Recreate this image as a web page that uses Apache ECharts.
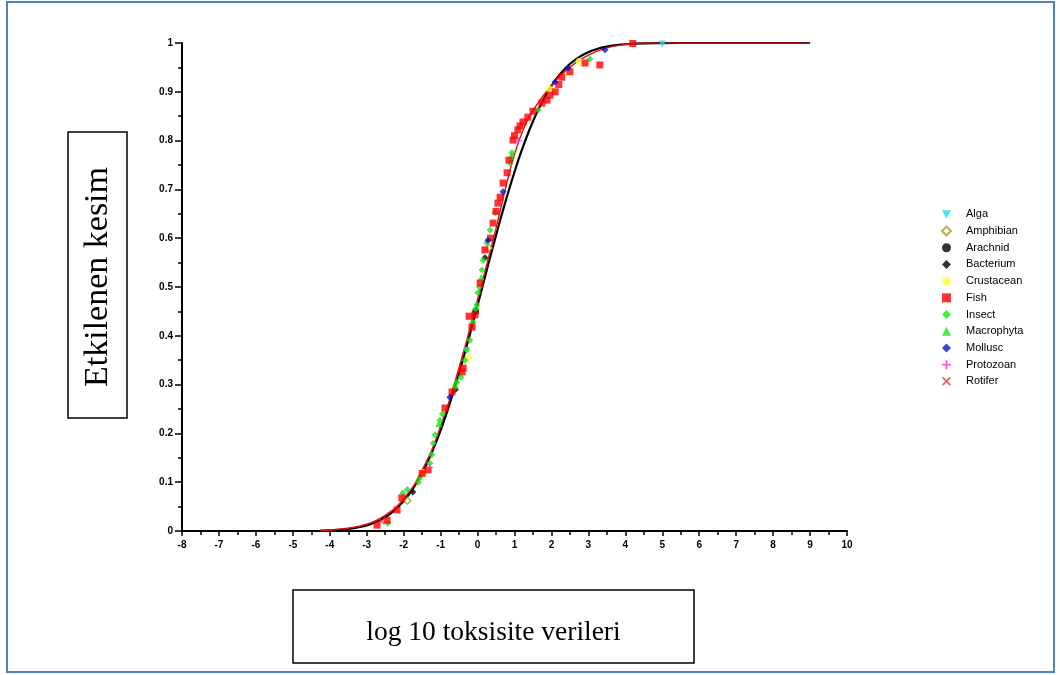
<!DOCTYPE html>
<html><head><meta charset="utf-8">
<script src="https://cdn.jsdelivr.net/npm/echarts@6/dist/echarts.min.js"></script>
<style>html,body{margin:0;padding:0;background:#fff}#c{width:1060px;height:675px}</style>
</head><body><div id="c"></div>
<script>
// ---- data ----
const speciesNames = ['Alga','Amphibian','Arachnid','Bacterium','Crustacean','Fish','Insect','Macrophyta','Mollusc','Protozoan','Rotifer'];

const alga = [[5.0,0.998],[-0.3,0.37]];
const amphibian = [[-1.9,0.062],[0.3,0.58]];
const arachnid = [[-0.05,0.45]];
const bacterium = [[-1.75,0.08],[-0.6,0.29],[0.2,0.56]];
const crustacean = [[-1.45,0.12],[-0.25,0.355],[1.95,0.905],[2.75,0.962]];
const fish = [[-2.72,0.012],[-2.45,0.022],[-2.18,0.043],[-2.05,0.068],[-1.5,0.118],[-1.34,0.125],[-0.88,0.252],[-0.69,0.285],
  [-0.42,0.326],[-0.39,0.334],[-0.23,0.44],[-0.15,0.418],[-0.07,0.443],[0.07,0.508],[0.2,0.576],[0.35,0.6],[0.42,0.631],
  [0.5,0.655],[0.55,0.672],[0.61,0.684],[0.69,0.713],[0.8,0.734],[0.85,0.76],[0.96,0.801],[1.0,0.81],[1.09,0.822],
  [1.15,0.83],[1.23,0.838],[1.36,0.848],[1.5,0.86],[1.74,0.877],[1.88,0.883],[1.96,0.893],[2.1,0.9],[2.2,0.915],
  [2.28,0.93],[2.5,0.941],[2.91,0.959],[3.31,0.955],[4.2,0.999]];
const insect = [[-2.43,0.016],[-2.02,0.078],[-1.9,0.085],[-1.6,0.1],[-1.56,0.109],[-1.29,0.139],[-1.24,0.156],[-1.2,0.18],
  [-1.15,0.197],[-1.02,0.227],[-0.95,0.24],[-0.61,0.295],[-0.56,0.305],[-0.45,0.315],[-0.34,0.35],[-0.29,0.371],
  [-0.21,0.391],[-0.12,0.428],[-0.05,0.455],[-0.02,0.463],[0.01,0.488],[0.05,0.5],[0.12,0.535],[0.15,0.555],
  [0.25,0.59],[0.34,0.617],[0.47,0.652],[0.88,0.754],[0.93,0.775],[1.64,0.863],[3.04,0.967]];
const macrophyta = [[-1.05,0.22],[0.1,0.52],[0.92,0.77]];
const mollusc = [[-0.75,0.274],[0.28,0.596],[0.69,0.695],[2.1,0.92],[2.45,0.949],[3.45,0.986]];
const protozoan = [[-1.3,0.13],[1.1,0.8]];
const rotifer = [[-2.6,0.02]];

// fitted curve (black) and fish curve (red)
const curveX = [-4.25,-4,-3.75,-3.5,-3.25,-3,-2.75,-2.5,-2.25,-2,-1.75,-1.5,-1.25,-1,-0.75,-0.5,-0.25,0,0.25,0.5,0.75,1,1.25,1.5,1.75,2,2.25,2.5,2.75,3,3.25,3.5,3.75,4,4.5,5,6,7,8,9];
const curveY = [0.0008,0.0014,0.0025,0.0043,0.0071,0.0116,0.0183,0.0283,0.0423,0.0614,0.0866,0.1188,0.1587,0.2064,0.2618,0.324,0.3916,0.4625,0.5347,0.6057,0.6733,0.7357,0.7915,0.8396,0.8798,0.9123,0.9377,0.957,0.9712,0.9812,0.9881,0.9927,0.9956,0.9974,0.9992,0.9998,1,1,1,1];
const fishCurveX = [-4.25,-4,-3.5,-3,-2.5,-2,-1.5,-1,-0.5,0,0.5,0.75,1,1.25,1.5,2,2.5,3,3.5,4,4.5,5,6,7,8,9];
const fishCurveY = [0.001,0.002,0.006,0.014,0.032,0.066,0.125,0.215,0.335,0.475,0.62,0.70,0.772,0.825,0.862,0.913,0.95,0.975,0.99,0.997,1,1,1,1,1,1];

const xLabel = 'log 10 toksisite verileri';
const yLabel = 'Etkilenen kesim';

// ---- build ----
const zip = (xs, ys) => xs.map((x, i) => [x, ys[i]]);
const plusPath = 'path://M4,0L6,0L6,4L10,4L10,6L6,6L6,10L4,10L4,6L0,6L0,4L4,4Z';
const crossPath = 'path://M1.4,0L5,3.6L8.6,0L10,1.4L6.4,5L10,8.6L8.6,10L5,6.4L1.4,10L0,8.6L3.6,5L0,1.4Z';
const downTriPath = 'path://M0,0L10,0L5,9Z';

const styles = {
  Alga: {symbol:downTriPath, itemStyle:{color:'#22d4f5'}},
  Amphibian: {symbol:'diamond', itemStyle:{color:'#ffffff', borderColor:'#a0a020', borderWidth:1.5}},
  Arachnid: {symbol:'circle', itemStyle:{color:'#000000'}},
  Bacterium: {symbol:'diamond', itemStyle:{color:'#000000'}},
  Crustacean: {symbol:'circle', itemStyle:{color:'#ffff40'}},
  Fish: {symbol:'rect', itemStyle:{color:'#ff0000'}},
  Insect: {symbol:'diamond', itemStyle:{color:'#19e619'}},
  Macrophyta: {symbol:'triangle', itemStyle:{color:'#19e619'}},
  Mollusc: {symbol:'diamond', itemStyle:{color:'#1010c8'}},
  Protozoan: {symbol:plusPath, itemStyle:{color:'#ff33cc'}},
  Rotifer: {symbol:crossPath, itemStyle:{color:'#d04040'}}
};
const dataMap = {Alga:alga, Amphibian:amphibian, Arachnid:arachnid, Bacterium:bacterium, Crustacean:crustacean,
  Fish:fish, Insect:insect, Macrophyta:macrophyta, Mollusc:mollusc, Protozoan:protozoan, Rotifer:rotifer};

const scatterOrder = ['Alga','Amphibian','Arachnid','Bacterium','Crustacean','Insect','Macrophyta','Fish','Mollusc','Protozoan','Rotifer'];
const series = [
  {type:'line', name:'fit', data:zip(curveX, curveY), smooth:true, showSymbol:false, symbol:'none',
   lineStyle:{color:'#000', width:2.2}, z:2, silent:true},
  {type:'line', name:'fishfit', data:zip(fishCurveX, fishCurveY), smooth:true, showSymbol:false, symbol:'none',
   lineStyle:{color:'#e01010', width:1.4}, z:2, silent:true}
];
scatterOrder.forEach(n => {
  series.push(Object.assign({type:'scatter', name:n, data:dataMap[n], symbolSize:7, z:3}, styles[n]));
});

const chart = echarts.init(document.getElementById('c'));
chart.setOption({
  animation:false,
  backgroundColor:'#fff',
  grid:{left:182, right:213, top:43, bottom:144},
  xAxis:{type:'value', min:-8, max:10, interval:1,
    axisLine:{show:true, onZero:false, lineStyle:{color:'#000', width:2}},
    axisTick:{show:true, length:5, lineStyle:{color:'#000', width:1.5}},
    minorTick:{show:true, splitNumber:2, length:4, lineStyle:{color:'#000', width:1.5}},
    splitLine:{show:false},
    axisLabel:{color:'#000', fontSize:10, fontWeight:'bold', fontFamily:'Liberation Sans', margin:9}
  },
  yAxis:{type:'value', min:0, max:1, interval:0.1,
    axisLine:{show:true, onZero:false, lineStyle:{color:'#000', width:2}},
    axisTick:{show:true, length:7, lineStyle:{color:'#000', width:1.5}},
    minorTick:{show:true, splitNumber:2, length:4, lineStyle:{color:'#000', width:1.5}},
    splitLine:{show:false},
    axisLabel:{color:'#000', fontSize:10, fontWeight:'bold', fontFamily:'Liberation Sans', margin:9}
  },
  legend:{orient:'vertical', left:936, top:201, data:speciesNames,
    itemWidth:9, itemHeight:9, itemGap:0,
    textStyle:{fontSize:11, fontFamily:'Liberation Sans', color:'#000', lineHeight:16.7, padding:[0,0,0,10]}
  },
  graphic:[
    {type:'rect', shape:{x:7, y:2, width:1047, height:670}, style:{fill:'none', stroke:'#4f81bd', lineWidth:2}, silent:true},
    {type:'rect', shape:{x:68, y:132, width:59, height:286}, style:{fill:'#fff', stroke:'#000', lineWidth:1.5}},
    {type:'text', x:98, y:277, rotation:Math.PI/2,
      style:{text:yLabel, font:'34px "Liberation Serif"', fill:'#000', align:'center', verticalAlign:'middle'}},
    {type:'rect', shape:{x:293, y:590, width:401, height:73}, style:{fill:'#fff', stroke:'#000', lineWidth:1.5}},
    {type:'text', x:493.5, y:633, style:{text:xLabel, font:'27.5px "Liberation Serif"', fill:'#000', align:'center', verticalAlign:'middle'}}
  ],
  series:series
});
</script></body></html>
